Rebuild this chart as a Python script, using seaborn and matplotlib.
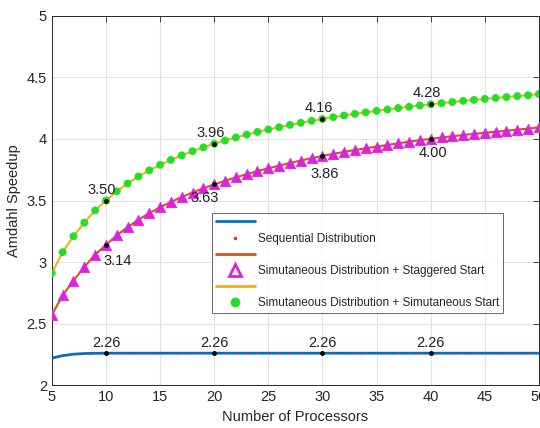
import numpy as np
import pandas as pd
import seaborn as sns
import matplotlib.pyplot as plt
from matplotlib.lines import Line2D
from matplotlib.ticker import FormatStrFormatter

processors = list(range(5, 51))

sequential = [2.22, 2.24, 2.252, 2.257, 2.259, 2.26, 2.26, 2.26, 2.26, 2.26,
              2.26, 2.26, 2.26, 2.26, 2.26, 2.26, 2.26, 2.26, 2.26, 2.26,
              2.26, 2.26, 2.26, 2.26, 2.26, 2.26, 2.26, 2.26, 2.26, 2.26,
              2.26, 2.26, 2.26, 2.26, 2.26, 2.26, 2.26, 2.26, 2.26, 2.26,
              2.26, 2.26, 2.26, 2.26, 2.26, 2.26]

staggered = [2.57, 2.73, 2.85, 2.96, 3.06, 3.14, 3.217, 3.284, 3.344, 3.397,
             3.445, 3.488, 3.528, 3.565, 3.599, 3.631, 3.660, 3.688, 3.714, 3.739,
             3.762, 3.783, 3.805, 3.825, 3.844, 3.862, 3.879, 3.895, 3.910, 3.924,
             3.938, 3.951, 3.965, 3.977, 3.990, 4.001, 4.012, 4.022, 4.032, 4.041,
             4.050, 4.059, 4.067, 4.076, 4.084, 4.095]

simultaneous = [2.91, 3.08, 3.21, 3.32, 3.42, 3.50, 3.574, 3.638, 3.695, 3.745,
                3.790, 3.830, 3.867, 3.901, 3.932, 3.961, 3.987, 4.012, 4.035, 4.057,
                4.077, 4.095, 4.114, 4.131, 4.147, 4.162, 4.177, 4.191, 4.204, 4.216,
                4.228, 4.239, 4.251, 4.261, 4.272, 4.281, 4.291, 4.300, 4.309, 4.317,
                4.325, 4.333, 4.340, 4.348, 4.355, 4.365]

label_n = [10, 20, 30, 40]
seq_labels = ['2.26', '2.26', '2.26', '2.26']
stag_labels = ['3.14', '3.63', '3.86', '4.00']
sim_labels = ['3.50', '3.96', '4.16', '4.28']

df = pd.DataFrame({'n': processors, 'seq': sequential,
                   'stag': staggered, 'sim': simultaneous})

sns.set_style('white')
plt.rcParams['font.family'] = ['Liberation Sans', 'DejaVu Sans']

fig = plt.figure(figsize=(5.4, 4.28), dpi=100)
ax = fig.add_axes([0.096, 0.1, 0.902, 0.863])

blue = '#0072BD'
orange = '#D95319'
yellow = '#EDB120'
magenta = '#DD22DD'
green = '#22E022'

sns.lineplot(data=df, x='n', y='seq', color=blue, lw=2, ax=ax)
sns.scatterplot(data=df, x='n', y='seq', color='#E03030', marker='.', s=6,
                edgecolor='none', ax=ax, zorder=3)
sns.lineplot(data=df, x='n', y='stag', color=orange, lw=1.5, ax=ax)
sns.scatterplot(data=df, x='n', y='stag', color=magenta, marker='^', s=55,
                edgecolor=magenta, ax=ax, zorder=3)
sns.lineplot(data=df, x='n', y='sim', color=yellow, lw=1.5, ax=ax)
sns.scatterplot(data=df, x='n', y='sim', color=green, marker='o', s=32,
                edgecolor='none', ax=ax, zorder=3)

# labelled points
idx = [processors.index(n) for n in label_n]
for i, n in enumerate(label_n):
    ys = sequential[idx[i]]
    yt = staggered[idx[i]]
    yg = simultaneous[idx[i]]
    ax.plot([n, n, n], [ys, yt, yg], 'k.', ms=5, zorder=4)
    ax.annotate(seq_labels[i], (n, ys), xytext=(0, 3), textcoords='offset pixels',
                ha='center', va='bottom', fontsize=10.5, color='#222222')
    ax.annotate(sim_labels[i], (n, yg), xytext=(-4, 4), textcoords='offset pixels',
                ha='center', va='bottom', fontsize=10.5, color='#222222')
stag_off = [(12, -9), (-10, -7), (2, -11), (2, -7)]
for i, n in enumerate(label_n):
    ax.annotate(stag_labels[i], (n, staggered[idx[i]]), xytext=stag_off[i],
                textcoords='offset pixels', ha='center', va='top', fontsize=10.5,
                color='#222222')

ax.set_xlim(5, 50)
ax.set_ylim(2, 5)
ax.set_xticks(range(5, 51, 5))
ax.set_yticks(np.arange(2, 5.01, 0.5))
ax.yaxis.set_major_formatter(FormatStrFormatter('%g'))
ax.grid(True, color='#E3E3E3', lw=0.8)
ax.tick_params(direction='in', top=True, right=True, length=4, labelsize=10.5,
               colors='#262626', width=0.6)
for sp in ax.spines.values():
    sp.set_color('#262626')
    sp.set_linewidth(0.7)
ax.set_xlabel('Number of Processors', fontsize=10.5, color='#262626')
ax.set_ylabel('Amdahl Speedup', fontsize=10.5, color='#262626')

handles = [
    Line2D([], [], color=blue, lw=2),
    Line2D([], [], color='#E03030', marker='.', ms=3, ls='none'),
    Line2D([], [], color=orange, lw=2),
    Line2D([], [], color=magenta, marker='^', ms=8, ls='none', mfc='none', mew=2),
    Line2D([], [], color=yellow, lw=2),
    Line2D([], [], color=green, marker='o', ms=6, ls='none'),
]
labels = ['', 'Sequential Distribution', '',
          'Simutaneous Distribution + Staggered Start', '',
          'Simutaneous Distribution + Simutaneous Start']
leg = ax.legend(handles, labels, loc='upper left', bbox_to_anchor=(0.329, 0.466),
                fontsize=8.5, frameon=True, fancybox=False, edgecolor='#262626',
                handlelength=3.3, handletextpad=0.3, borderpad=0.3,
                borderaxespad=0, labelspacing=0.35)
leg.get_frame().set_linewidth(0.6)

fig.savefig('out.png', dpi=100)
